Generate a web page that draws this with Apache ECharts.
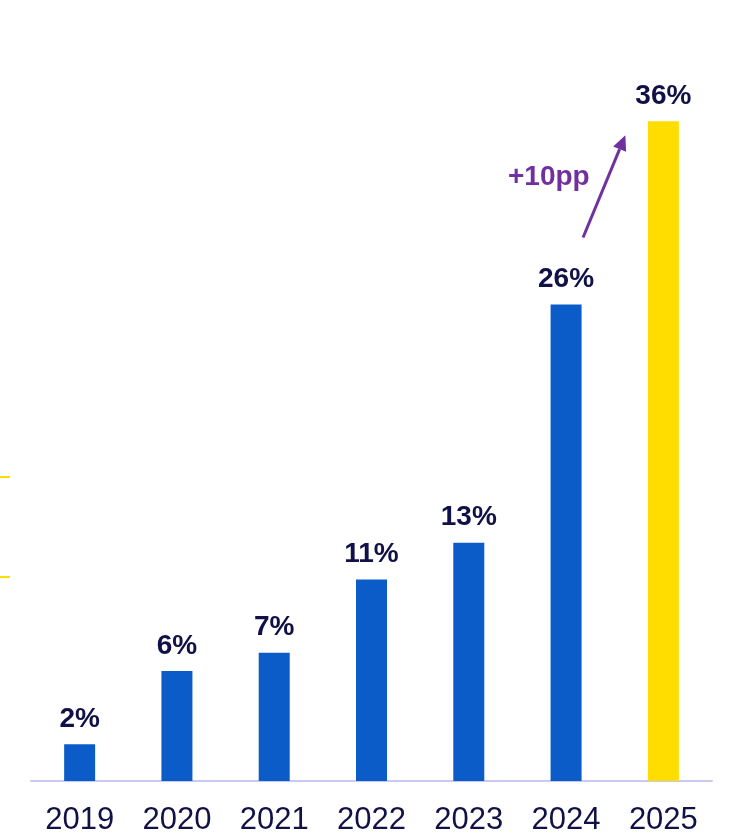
<!DOCTYPE html>
<html>
<head>
<meta charset="utf-8">
<script src="https://cdn.jsdelivr.net/npm/echarts@6/dist/echarts.min.js"></script>
<style>
  html, body { margin: 0; padding: 0; background: #ffffff; }
  #chart { width: 730px; height: 835px; }
</style>
</head>
<body>
<div id="chart"></div>
<script>
// Share by year (%)
var years = ['2019', '2020', '2021', '2022', '2023', '2024', '2025'];
var shares = [2, 6, 7, 11, 13, 26, 36];
var highlightYear = '2025';
var changeLabel = '+10pp';

var BLUE = '#0b5cc9';
var YELLOW = '#ffdd00';
var NAVY = '#111148';
var PURPLE = '#7030a0';
var FONT = '"Liberation Sans", Arial, sans-serif';

var chart = echarts.init(document.getElementById('chart'), null, { renderer: 'canvas' });

var barData = shares.map(function (v, i) {
  return {
    value: v,
    itemStyle: { color: years[i] === highlightYear ? YELLOW : BLUE }
  };
});

chart.setOption({
  animation: false,
  backgroundColor: '#ffffff',
  grid: { left: 31, right: 18, top: 48, bottom: 54, containLabel: false, outerBoundsMode: 'none' },
  xAxis: {
    type: 'category',
    data: years,
    axisLine: { show: true, lineStyle: { color: '#c9c9f2', width: 2 } },
    axisTick: { show: false },
    axisLabel: {
      interval: 0,
      margin: 24,
      color: NAVY,
      fontFamily: FONT,
      fontSize: 31
    }
  },
  yAxis: {
    type: 'value',
    min: 0,
    max: 40,
    show: false,
    splitLine: { show: false }
  },
  series: [{
    type: 'bar',
    data: barData,
    barWidth: 31,
    label: {
      show: true,
      position: 'top',
      distance: 11,
      formatter: '{c}%',
      color: NAVY,
      fontFamily: FONT,
      fontWeight: 'bold',
      fontSize: 28
    }
  }]
});

// Annotation arrow from the 2024 label towards the 2025 bar
var p24 = chart.convertToPixel({ xAxisIndex: 0, yAxisIndex: 0 }, ['2024', shares[5]]);
var p25 = chart.convertToPixel({ xAxisIndex: 0, yAxisIndex: 0 }, ['2025', shares[6]]);
var tail = [p24[0] + 17, p24[1] - 67];
var tip = [p25[0] - 38, p25[1] + 14];
var ang = Math.atan2(tip[1] - tail[1], tip[0] - tail[0]);
var headLen = 15, headHalf = 7;
var base = [tip[0] - headLen * Math.cos(ang), tip[1] - headLen * Math.sin(ang)];
var nx = -Math.sin(ang), ny = Math.cos(ang);

chart.setOption({
  graphic: [
    {
      type: 'line',
      shape: { x1: tail[0], y1: tail[1], x2: base[0], y2: base[1] },
      style: { stroke: PURPLE, lineWidth: 3 }
    },
    {
      type: 'polygon',
      shape: {
        points: [
          tip,
          [base[0] + nx * headHalf, base[1] + ny * headHalf],
          [base[0] - nx * headHalf, base[1] - ny * headHalf]
        ]
      },
      style: { fill: PURPLE }
    },
    {
      type: 'text',
      x: 508,
      y: 163,
      style: {
        text: changeLabel,
        fill: PURPLE,
        font: 'bold 28px ' + FONT
      }
    },
    // small yellow strokes at the left edge
    { type: 'rect', shape: { x: 0, y: 476, width: 10, height: 2 }, style: { fill: YELLOW } },
    { type: 'rect', shape: { x: 0, y: 576, width: 10, height: 2 }, style: { fill: YELLOW } }
  ]
});
</script>
</body>
</html>
